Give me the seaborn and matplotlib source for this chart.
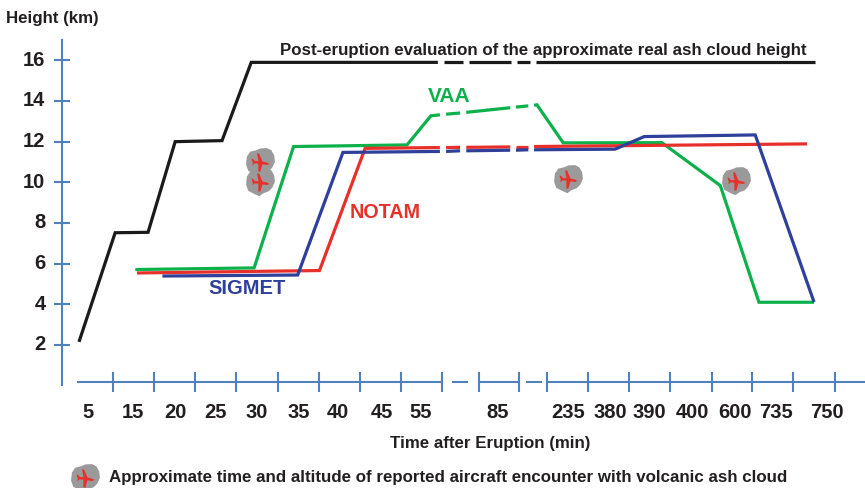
import pandas as pd
import matplotlib.pyplot as plt
from matplotlib.path import Path
from matplotlib.transforms import ScaledTranslation
import seaborn as sns

# x values are positions along the (non linear) time axis, one unit per tick interval
nan = float("nan")

black_x = [0.17, 1.05, 1.85, 2.51, 3.65, 4.36, 8.90, nan, 9.05, 9.51, nan, 9.66, 10.67, nan, 10.83, 11.14, nan, 11.29, 18.08]
black_y = [2.15, 7.52, 7.54, 12.00, 12.05, 15.90, 15.90, nan, 15.90, 15.90, nan, 15.90, 15.90, nan, 15.90, 15.90, nan, 15.90, 15.90]

vaa_x = [1.54, 4.43, 5.39, 8.15, 8.73, 8.95, nan, 9.10, 9.44, nan, 9.59, 10.66, nan, 10.80, 11.10, nan, 11.24, 11.31, 11.95, 14.35, 15.77, 16.71, 18.05]
vaa_y = [5.71, 5.79, 11.76, 11.84, 13.27, 13.32, nan, 13.35, 13.41, nan, 13.44, 13.67, nan, 13.70, 13.76, nan, 13.79, 13.81, 11.94, 11.95, 9.84, 4.10, 4.10]

notam_x = [1.58, 6.02, 7.13, 8.95, nan, 9.10, 9.44, nan, 9.59, 10.66, nan, 10.80, 11.10, nan, 11.24, 17.88]
notam_y = [5.54, 5.66, 11.67, 11.71, nan, 11.71, 11.72, nan, 11.72, 11.74, nan, 11.75, 11.75, nan, 11.76, 11.89]

sigmet_x = [2.20, 5.49, 6.59, 8.95, nan, 9.10, 9.44, nan, 9.59, 10.66, nan, 10.80, 11.10, nan, 11.24, 13.21, 13.92, 16.62, 18.05]
sigmet_y = [5.39, 5.44, 11.47, 11.52, nan, 11.52, 11.55, nan, 11.55, 11.58, nan, 11.58, 11.60, nan, 11.60, 11.63, 12.25, 12.33, 4.11]

encounter_x = [4.57, 4.57, 12.07, 16.16]
encounter_y = [11.00, 10.02, 10.17, 10.05]

y_ticks = [2, 4, 6, 8, 10, 12, 14, 16]
x_ticks = [1, 2, 3, 4, 5, 6, 7, 8, 9, 9.89, 10.87, 11.55, 12.55, 13.55, 14.55, 15.56, 16.55, 17.54, 18.56]
x_label_pos = [0.39, 1.48, 2.51, 3.5, 4.5, 5.52, 6.47, 7.54, 8.49, 10.36, 12.07, 13.09, 14.04, 15.09, 16.13, 17.13, 18.37]
x_labels = [5, 15, 20, 25, 30, 35, 40, 45, 55, 85, 235, 380, 390, 400, 600, 735, 750]
axis_from = [0.12, 9.25, 9.89, 11.05, 11.55]
axis_to = [9.0, 9.63, 10.87, 11.44, 19.29]
AXIS_Y = 0.16

colores = {"real": "#1a1a1a", "VAA": "#0db14b", "NOTAM": "#e8302a", "SIGMET": "#2e409a"}
AZUL = "#4f81bd"
TEXTO = "#231f20"

# nube gris y avion rojo
NUBE = Path([(-.95, .4), (-.72, .75), (-.3, .85), (0, .98), (.45, 1.0), (.75, .85), (.95, .5), (1, .05), (.82, -.35),
             (.58, -.6), (.2, -.75), (-.08, -.95), (-.42, -.8), (-.85, -.58), (-1, -.15), (-.95, .4)], closed=True)
AVION = Path([(-1, .42), (-.85, .42), (-.62, .16), (-.22, .14), (-.38, 1.0), (-.16, 1.0), (.22, .10), (.7, 0), (1, -.16),
              (.72, -.28), (.22, -.2), (-.02, -1.0), (-.24, -1.0), (-.24, -.12), (-.66, -.1), (-.9, -.32), (-.85, -.02), (-1, .42)],
             closed=True)


def tabla(nombre, xs, ys):
    '''Pasa una serie con huecos a formato largo, con un tramo por cada trozo continuo.'''
    d = pd.DataFrame({"x": xs, "y": ys})
    d["tramo"] = nombre + d["x"].isna().cumsum().astype(str)
    d["serie"] = nombre
    return d.dropna()


def nubes(ax, xs, ys):
    sns.scatterplot(x=xs, y=ys, marker=NUBE, s=430, color="#9a9a9a", linewidth=0, ax=ax, clip_on=False, zorder=4)
    sns.scatterplot(x=xs, y=ys, marker=AVION, s=170, color="#e8302a", linewidth=0, ax=ax, clip_on=False, zorder=5)


def main() -> None:
    sns.set_style("white")
    plt.rcParams["font.family"] = ["Liberation Sans", "DejaVu Sans"]
    plt.rcParams["font.weight"] = "bold"

    fig = plt.figure(figsize=(8.65, 4.89), dpi=100)
    ax = fig.add_axes([62 / 865, (489 - 386) / 489, (865 - 62) / 865, (386 - 41) / 489])

    datos = pd.concat([tabla("real", black_x, black_y), tabla("VAA", vaa_x, vaa_y),
                       tabla("NOTAM", notam_x, notam_y), tabla("SIGMET", sigmet_x, sigmet_y)])
    sns.lineplot(data=datos, x="x", y="y", hue="serie", hue_order=list(colores), palette=colores, units="tramo",
                 estimator=None, sort=False, linewidth=2.3, legend=False, ax=ax, solid_capstyle="butt", solid_joinstyle="miter")
    nubes(ax, encounter_x, encounter_y)
    nubes(ax, [0.32], [-4.55])

    ax.set_xlim(-0.243, 19.29)
    ax.set_ylim(0.03, 17.0)
    ax.hlines([AXIS_Y] * len(axis_from), axis_from, axis_to, color=AZUL, linewidth=1.5)

    for lado in ["top", "right", "bottom"]:
        ax.spines[lado].set_visible(False)
    ax.spines["bottom"].set_position(("data", AXIS_Y))
    ax.spines["left"].set_color(AZUL)
    ax.spines["left"].set_linewidth(1.5)

    ax.set_yticks(y_ticks)
    ax.tick_params(axis="y", direction="inout", length=11.5, width=1.5, color=AZUL, labelsize=14.5, labelcolor=TEXTO, pad=6.2, left=True)
    subir = ScaledTranslation(0, 3 / 72 * 0.72, fig.dpi_scale_trans)
    for etiqueta in ax.get_yticklabels():
        etiqueta.set_transform(etiqueta.get_transform() + subir)
    ax.set_xticks(x_ticks)
    ax.set_xticklabels([])
    ax.set_xticks(x_label_pos, minor=True)
    ax.set_xticklabels(x_labels, minor=True)
    ax.tick_params(axis="x", which="major", direction="inout", length=15, width=1.5, color=AZUL, bottom=True)
    ax.tick_params(axis="x", which="minor", length=0, labelsize=14.5, labelcolor=TEXTO, pad=14.1, bottom=True)
    ax.set_xlabel("")
    ax.set_ylabel("")

    fig.text(6 / 865, 1 - 18 / 489, "Height (km)", fontsize=12.15, color=TEXTO, va="center")
    fig.text(490 / 865, 1 - 444 / 489, "Time after Eruption (min)", fontsize=12.2, color=TEXTO, va="center", ha="center")
    fig.text(109 / 865, 1 - 478 / 489, "Approximate time and altitude of reported aircraft encounter with volcanic ash cloud",
             fontsize=12.2, color=TEXTO, va="center")
    fig.text(280 / 865, 1 - 50 / 489, "Post-eruption evaluation of the approximate real ash cloud height",
             fontsize=12.2, color=TEXTO, va="center")
    fig.text(428 / 865, 1 - 96 / 489, "VAA", fontsize=15, color=colores["VAA"], va="center")
    fig.text(350 / 865, 1 - 213 / 489, "NOTAM", fontsize=14.2, color=colores["NOTAM"], va="center")
    fig.text(208 / 865, 1 - 288 / 489, "SIGMET", fontsize=14.5, color=colores["SIGMET"], va="center")

    fig.savefig("out.png", dpi=100)


if __name__ == "__main__":
    main()
